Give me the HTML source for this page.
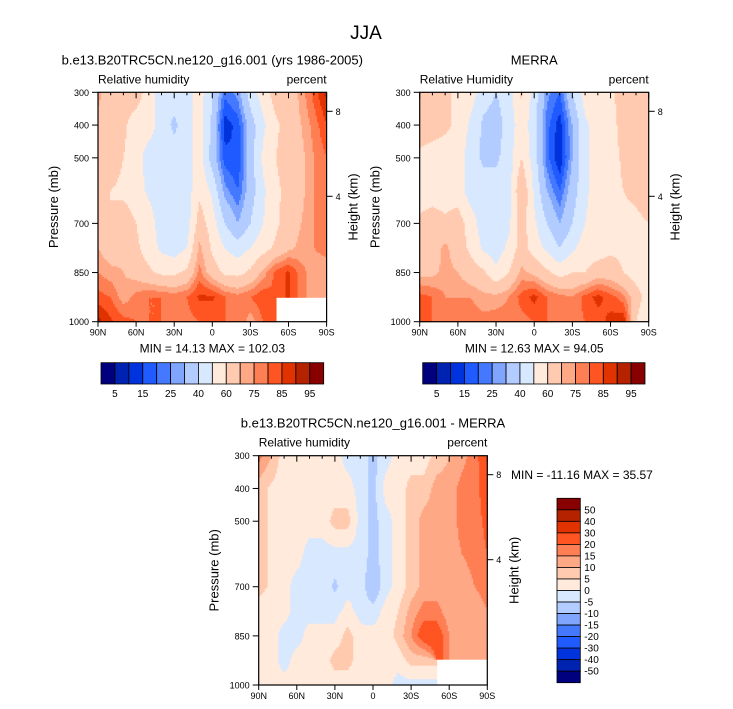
<!DOCTYPE html>
<html><head><meta charset="utf-8"><style>
body{margin:0;background:#fff}
svg{display:block;font-family:"Liberation Sans",sans-serif}
</style></head><body>
<svg id="s" width="733" height="709" xmlns="http://www.w3.org/2000/svg">
<text x="366" y="39" font-size="19" text-anchor="middle">JJA</text>
</svg>
<script>
const palette=["#00007f","#0022b0","#0033dd","#1f5bff","#4479ff","#7fa5ff","#b2ccff","#d8e8ff","#ffeadb","#ffcaaf","#ffa886","#ff7f55","#ff5522","#e03300","#b52200","#880000"];
const rhLevels=[5,10,15,20,25,30,40,50,60,70,75,80,85,90,95];
const rhLabels=["5","15","25","40","60","75","85","95"];
const diffLevels=[-50,-40,-30,-20,-15,-10,-5,0,5,10,15,20,30,40,50];
const latLabels=["90N","60N","30N","0","30S","60S","90S"];
const pressures=[300,400,500,600,700,775,850,925,1000];
const pTicks=[300,400,500,700,850,1000];
const hTicks=[8,4];
const N=null;
const modelRH=[
[72,65,65,65,55,45,45,45,55,40,22,27,45,55,65,65,72,82,92],
[68,65,62,55,55,45,38,45,55,38,12,17,35,48,58,65,70,77,85],
[65,65,60,55,45,45,45,45,55,35,17,15,35,52,60,65,68,75,80],
[65,60,58,55,48,45,42,45,58,48,27,20,35,48,58,63,68,75,80],
[65,60,65,60,55,45,45,45,65,55,40,30,40,50,58,65,70,75,78],
[70,65,68,62,55,48,45,50,72,58,50,45,50,56,62,68,72,75,77],
[75,72,70,67,62,58,58,62,77,65,58,57,62,72,82,86,77,72,72],
[82,80,72,77,80,80,78,80,86,86,80,77,80,84,N,N,N,N,N],
[92,86,82,80,80,80,80,78,80,80,80,80,72,80,N,N,N,N,N]];
const merraRH=[
[62,65,62,58,55,45,40,45,62,45,27,20,40,55,55,58,65,65,65],
[65,65,62,58,48,38,35,45,55,45,22,12,30,48,55,55,65,65,65],
[58,55,55,55,45,38,38,45,60,45,22,10,30,48,55,55,62,65,65],
[55,55,55,55,45,45,45,45,70,48,30,20,35,48,55,55,60,62,65],
[62,65,62,65,55,45,45,48,65,52,40,30,40,50,55,55,58,58,60],
[65,65,72,65,58,48,45,52,65,55,48,40,48,55,55,58,58,55,50],
[68,68,72,70,65,62,52,60,72,68,62,56,60,60,65,65,60,55,50],
[82,80,75,75,75,72,72,75,82,87,80,77,75,82,87,82,77,65,55],
[82,80,80,80,78,77,78,78,78,80,80,80,78,80,82,87,90,60,50]];
const diffRH=[
[17,10,2,2,2,2,2,-2,-2,-7,-2,2,2,2,7,10,13,18,25],
[7,4,2,2,2,2,2,2,-2,-7,2,2,7,7,12,12,17,17,25],
[7,4,2,2,2,2,7,7,-2,-7,-2,2,7,12,12,12,17,17,22],
[7,4,2,2,-2,-2,-2,-2,-2,-7,-2,2,7,12,12,12,15,17,20],
[7,4,2,-2,-2,-2,-6,-2,-2,-10,-2,2,7,12,12,12,12,15,17],
[2,2,2,-2,-2,-2,-2,2,-2,-3,2,5,12,17,17,12,10,12,15],
[2,2,-2,-2,2,2,2,7,2,2,2,7,15,25,25,15,10,12,15],
[2,2,-2,2,2,2,7,7,2,2,2,2,7,7,N,N,N,N,N],
[2,2,2,2,2,2,2,2,2,2,2,-2,-2,-2,N,N,N,N,N]];

const S=document.getElementById('s');
const NS="http://www.w3.org/2000/svg";
function mk(tag,attrs,parent){const e=document.createElementNS(NS,tag);for(const k in attrs)e.setAttribute(k,attrs[k]);(parent||S).appendChild(e);return e;}
function txt(x,y,s,size,anchor,parent){const t=mk('text',{x:x,y:y,'font-size':size,'text-anchor':anchor||'start'},parent);t.textContent=s;return t;}
function levelIndex(v,levels){let i=0;while(i<levels.length&&v>=levels[i])i++;return i;}
function sample(grid,c,p){
  let r=0;while(r<pressures.length-2&&p>pressures[r+1])r++;
  const fr=Math.min(1,Math.max(0,(p-pressures[r])/(pressures[r+1]-pressures[r])));
  let c0=Math.min(17,Math.floor(c));const fc=Math.min(1,Math.max(0,c-c0));
  const pts=[[grid[r][c0],(1-fr)*(1-fc)],[grid[r][c0+1],(1-fr)*fc],[grid[r+1][c0],fr*(1-fc)],[grid[r+1][c0+1],fr*fc]];
  let s=0,w=0;for(const [v,ww] of pts){if(v!==null){s+=v*ww;w+=ww;}}
  if(w===0)return null;return s/w;
}
function panel(o){
  const {L,T,W,H,grid,levels,name}=o;
  const g=mk('g',{});
  
  
  const fill=mk('g',{},g);
  
  
  const xS=c=>L+c*W/18, yS=p=>T+(p-300)/700*H;
  const st=1.5;
  for(let y=T;y<T+H;y+=st){
    const p=300+((y+st/2)-T)/H*700;
    let runStart=L,runCol=null;
    const flush=(xe)=>{if(runCol!==null&&xe>runStart){mk('rect',{x:runStart.toFixed(2),y:y.toFixed(2),width:(xe-runStart+0.4).toFixed(2),height:st+0.4,fill:runCol},fill);}};
    for(let x=L;x<L+W;x+=st){
      const c=(x+st/2-L)/(W/18);
      const v=sample(grid,c,p);
      const col=v===null?'#ffffff':palette[levelIndex(v,levels)];
      if(col!==runCol){flush(x);runStart=x;runCol=col;}
    }
    flush(L+W);
  }
  mk('rect',{x:L,y:T,width:W,height:H,fill:'none',stroke:'#000','stroke-width':1.2},g);
  for(let d=0;d<=18;d++){
    const x=xS(d),maj=d%3===0;
    mk('line',{x1:x,y1:T,x2:x,y2:T+(maj?6:3),stroke:'#000','stroke-width':1},g);
    mk('line',{x1:x,y1:T+H,x2:x,y2:T+H+(maj?5:0),stroke:'#000','stroke-width':1},g);
  }
  latLabels.forEach((s,i)=>{const t=txt(xS(i*3),T+H+14,s,9,'middle',g);});
  pTicks.forEach(p=>{const y=yS(p);mk('line',{x1:L-6,y1:y,x2:L,y2:y,stroke:'#000','stroke-width':1},g);const t=txt(L-9,y+3.5,String(p),9,'end',g);});
  const hY={8:T+19,4:T+104};
  hTicks.forEach(h=>{const y=hY[h];mk('line',{x1:L+W,y1:y,x2:L+W+6,y2:y,stroke:'#000','stroke-width':1},g);const t=txt(L+W+9,y+3.5,String(h),9,'start',g);});
  const t1=txt(L,T-9,o.var,12,'start',g);
  const t2=txt(L+W,T-9,'percent',12,'end',g);
  const t3=txt(L+W/2,T-28,o.title,13,'middle',g);
  const ya=txt(0,0,'Pressure (mb)',13,'middle',g);ya.setAttribute('transform',`translate(${L-40},${T+H/2}) rotate(-90)`);
  const yb=txt(0,0,'Height (km)',13,'middle',g);yb.setAttribute('transform',`translate(${L+W+31},${T+H/2}) rotate(-90)`);
  if(o.stat){const t4=txt(L+W/2,T+H+31,o.stat,12,'middle',g);}
}
function hbar(x,y,w,h,name){
  const g=mk('g',{});
  
  
  const bw=w/16;
  palette.forEach((c,i)=>{const r=mk('rect',{x:x+i*bw,y:y,width:bw,height:h,fill:c,stroke:'#000','stroke-width':0.8},g);});
  rhLabels.forEach((s,i)=>{const t=txt(x+(2*i+1)*bw,y+h+13,s,10,'middle',g);});
}
panel({L:98,T:92.3,W:228.6,H:229.4,grid:modelRH,levels:rhLevels,name:'model',var:'Relative humidity',title:'b.e13.B20TRC5CN.ne120_g16.001 (yrs 1986-2005)',stat:'MIN =  14.13  MAX = 102.03'});
panel({L:419.7,T:92.3,W:229,H:229.4,grid:merraRH,levels:rhLevels,name:'merra',var:'Relative Humidity',title:'MERRA',stat:'MIN =  12.63  MAX =  94.05'});
panel({L:258.7,T:455.7,W:228.6,H:229.3,grid:diffRH,levels:diffLevels,name:'difference',var:'Relative humidity',title:'b.e13.B20TRC5CN.ne120_g16.001 - MERRA',stat:null});
hbar(101,362.7,222.7,21.3,'model-colorbar');
hbar(422.7,362.7,222.3,21.3,'merra-colorbar');
(function(){
  const g=mk('g',{});
  
  
  const x=557,y=498.3,w=23.3,h=184.4,bh=h/16;
  palette.slice().reverse().forEach((c,i)=>{const r=mk('rect',{x:x,y:y+i*bh,width:w,height:bh,fill:c,stroke:'#000','stroke-width':0.8},g);});
  diffLevels.slice().reverse().forEach((v,i)=>{const t=txt(x+w+4,y+(i+1)*bh+3.5,String(v),10,'start',g);});
  const t=txt(511,479,'MIN = -11.16  MAX =  35.57',12,'start',g);
  
  
})();
</script>
</body></html>
